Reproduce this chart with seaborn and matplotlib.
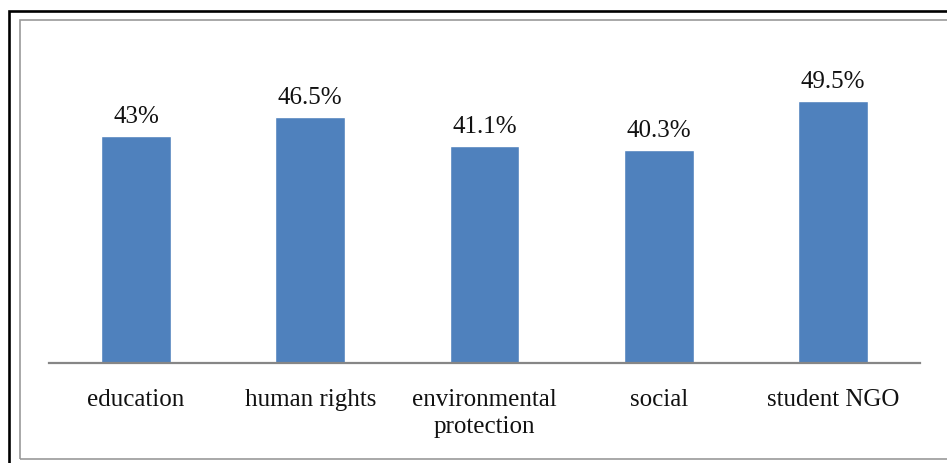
"""Bar chart: share of respondents by organisation type."""

import matplotlib.pyplot as plt
import pandas as pd
import seaborn as sns
from matplotlib.patches import Rectangle

sns.set_theme(style="white")
plt.rcParams["font.family"] = ["Liberation Serif", "DejaVu Serif"]

CATEGORIES = ["education", "human rights", "environmental\nprotection", "social", "student NGO"]
VALUES = [43.0, 46.5, 41.1, 40.3, 49.5]
VALUE_LABELS = ["43%", "46.5%", "41.1%", "40.3%", "49.5%"]

BAR_COLOR = "#4F81BD"
FONT_SIZE = 18


def main() -> None:
    df = pd.DataFrame({"category": CATEGORIES, "value": VALUES})

    fig = plt.figure(figsize=(9.47, 4.64), dpi=100)
    W, H = 947, 464
    ax = fig.add_axes([49 / W, 1 - 364 / H, (920 - 49) / W, (364 - 46.9) / H])

    sns.barplot(data=df, x="category", y="value", color=BAR_COLOR, width=0.4,
                saturation=1, ax=ax)
    ax.set_ylim(0, 60)
    ax.set_xlim(-0.5, len(CATEGORIES) - 0.5)

    ax.bar_label(ax.containers[0], labels=VALUE_LABELS, padding=6.5,
                 fontsize=FONT_SIZE, color="#111111")

    for side in ["left", "right", "top"]:
        ax.spines[side].set_visible(False)
    ax.spines["bottom"].set_color("#868686")
    ax.spines["bottom"].set_linewidth(1.6)
    ax.set_yticks([])
    ax.tick_params(axis="x", length=0, pad=18, labelsize=FONT_SIZE, labelcolor="#111111")
    for lbl in ax.get_xticklabels():
        lbl.set_linespacing(1.3)
    ax.set_xlabel("")
    ax.set_ylabel("")
    ax.set_facecolor("none")

    # outer black frame and inner grey chart border
    fig.patches.append(Rectangle((9 / W, -0.1), 2, 1 - 12 / H + 0.1, transform=fig.transFigure,
                                 fill=False, edgecolor="black", linewidth=1.9, zorder=0))
    fig.patches.append(Rectangle((20 / W, 4 / H), 2, (460 - 21) / H, transform=fig.transFigure,
                                 fill=False, edgecolor="#9A9A9A", linewidth=1.2, zorder=0))

    fig.savefig("out.png", dpi=100)
    plt.close(fig)


if __name__ == "__main__":
    main()
